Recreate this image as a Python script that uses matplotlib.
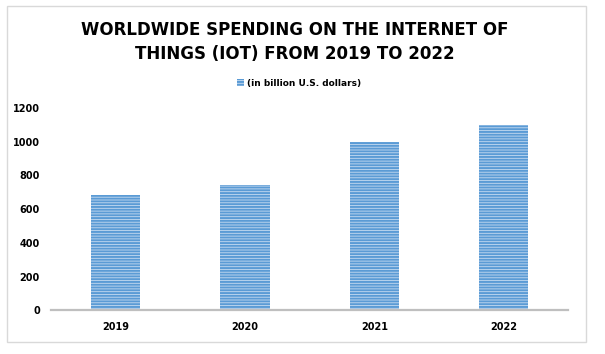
import matplotlib
matplotlib.use("Agg")
import matplotlib.pyplot as plt
from matplotlib.patches import Rectangle

years = ["2019", "2020", "2021", "2022"]
spending = [686, 742, 1000, 1097]
series_label = "(in billion U.S. dollars)"
title = "WORLDWIDE SPENDING ON THE INTERNET OF\nTHINGS (IOT) FROM 2019 TO 2022"
yticks = [0, 200, 400, 600, 800, 1000, 1200]

plt.rcParams['hatch.linewidth'] = 1.4
plt.rcParams['hatch.color'] = '#5B9BD5'

fig = plt.figure(figsize=(6.05, 3.54), dpi=100)
# outer chart frame
fig.patches.append(Rectangle((0.0116, 0.034), 0.957, 0.949, transform=fig.transFigure,
                             fill=False, edgecolor='#D9D9D9', linewidth=1.0))

ax = fig.add_axes([0.0843, 0.123, 0.855, 0.572])
bars = ax.bar(years, spending, width=0.38, color='#C6DBF1', hatch='------',
              edgecolor='#5B9BD5', linewidth=0, label=series_label)

ax.set_ylim(0, 1200)
ax.set_xlim(-0.5, len(years) - 0.5)
ax.set_yticks(yticks)
for s in ['top', 'right', 'left']:
    ax.spines[s].set_visible(False)
ax.spines['bottom'].set_color('#BFBFBF')
ax.spines['bottom'].set_linewidth(1.6)
ax.tick_params(length=0)
ax.tick_params(axis='y', pad=8)
ax.tick_params(axis='x', pad=8)
for lbl in ax.get_xticklabels() + ax.get_yticklabels():
    lbl.set_fontsize(7)
    lbl.set_fontweight('bold')

fig.text(0.487, 0.882, title, ha='center', va='center', fontsize=12,
         fontweight='bold', linespacing=1.4, color='#000000')

leg = fig.legend(handles=[bars], labels=[series_label], loc='center',
                 bbox_to_anchor=(0.495, 0.765), frameon=False,
                 prop={'size': 6.5, 'weight': 'bold'}, handlelength=0.7,
                 handleheight=0.7, handletextpad=0.4)

fig.savefig("out.png", dpi=100)
